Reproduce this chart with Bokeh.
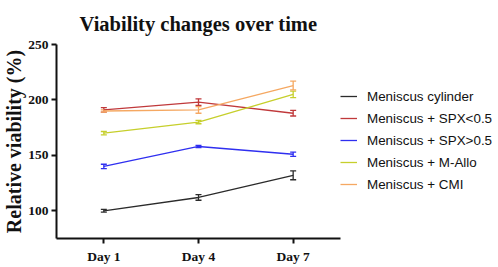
from bokeh.plotting import figure
from bokeh.models import ColumnDataSource, Whisker, TeeHead, FixedTicker, Legend, LegendItem
from bokeh.embed import file_html
from bokeh.resources import INLINE

days = ["Day 1", "Day 4", "Day 7"]
series_names = ["Meniscus cylinder", "Meniscus + SPX<0.5", "Meniscus + SPX>0.5",
                "Meniscus + M-Allo", "Meniscus + CMI"]
cylinder = [100, 112, 132]
cylinder_err = [1.2, 2.5, 4.0]
spx_low = [191, 198, 188]
spx_low_err = [2.0, 3.0, 2.5]
spx_high = [140, 158, 151]
spx_high_err = [2.0, 1.0, 2.0]
m_allo = [170, 180, 205]
m_allo_err = [1.5, 1.5, 3.0]
cmi = [190, 191, 213]
cmi_err = [1.0, 3.0, 4.0]
y_ticks = [100, 150, 200, 250]

colors = ["#2b2b2b", "#c0393b", "#2f2ff0", "#c6cf2c", "#f5a862"]
values = [cylinder, spx_low, spx_high, m_allo, cmi]
errors = [cylinder_err, spx_low_err, spx_high_err, m_allo_err, cmi_err]

serif = "Liberation Serif"

p = figure(frame_width=284, frame_height=194, x_range=days, y_range=(75, 250),
           output_backend="svg", toolbar_location=None,
           title="Viability changes over time")
p.min_border_left = 50
p.min_border_top = 44
p.min_border_bottom = 29
p.min_border_right = 0
p.outline_line_color = None
p.grid.visible = False
p.background_fill_color = "white"

p.title.text_font = serif
p.title.text_font_style = "bold"
p.title.text_font_size = "20.5px"
p.title.align = "center"
p.title.text_color = "#111111"
p.title.standoff = 20

for ax in (p.xaxis[0], p.yaxis[0]):
    ax.axis_line_width = 2
    ax.major_tick_line_width = 2
    ax.major_tick_out = 5
    ax.major_tick_in = 0
    ax.minor_tick_line_color = None
    ax.major_label_text_font = serif
    ax.major_label_text_font_style = "bold"
    ax.major_label_text_font_size = "13.5px"
    ax.major_label_text_color = "#111111"
    ax.axis_line_color = "#111111"
    ax.major_tick_line_color = "#111111"

p.yaxis.ticker = FixedTicker(ticks=y_ticks)
p.yaxis.axis_label = "Relative viability (%)"
p.yaxis.axis_label_text_font = serif
p.yaxis.axis_label_text_font_style = "bold"
p.yaxis.axis_label_text_font_size = "20px"
p.yaxis.axis_label_text_color = "#111111"
p.yaxis.axis_label_standoff = 0
p.yaxis.major_label_standoff = 3
p.xaxis.major_label_standoff = 5

items = []
for name, vals, errs, col in zip(series_names, values, errors, colors):
    src = ColumnDataSource(dict(x=days, y=vals,
                                upper=[v + e for v, e in zip(vals, errs)],
                                lower=[v - e for v, e in zip(vals, errs)]))
    r = p.line("x", "y", source=src, line_color=col, line_width=1.3)
    w = Whisker(base="x", upper="upper", lower="lower", source=src,
                line_color=col, line_width=1.3,
                upper_head=TeeHead(size=6, line_color=col, line_width=1.3),
                lower_head=TeeHead(size=6, line_color=col, line_width=1.3))
    p.add_layout(w)
    items.append(LegendItem(label=name, renderers=[r]))

legend = Legend(items=items, location=(0, 44))
legend.padding = 0
legend.margin = 0
legend.spacing = 2
legend.glyph_width = 17
legend.glyph_height = 20
legend.label_standoff = 10
legend.label_text_font = "Liberation Sans"
legend.label_text_font_size = "13.4px"
legend.label_text_color = "#111111"
legend.border_line_alpha = 0
legend.background_fill_alpha = 0
p.add_layout(legend, "right")

open("out.html", "w").write(file_html(p, INLINE))
